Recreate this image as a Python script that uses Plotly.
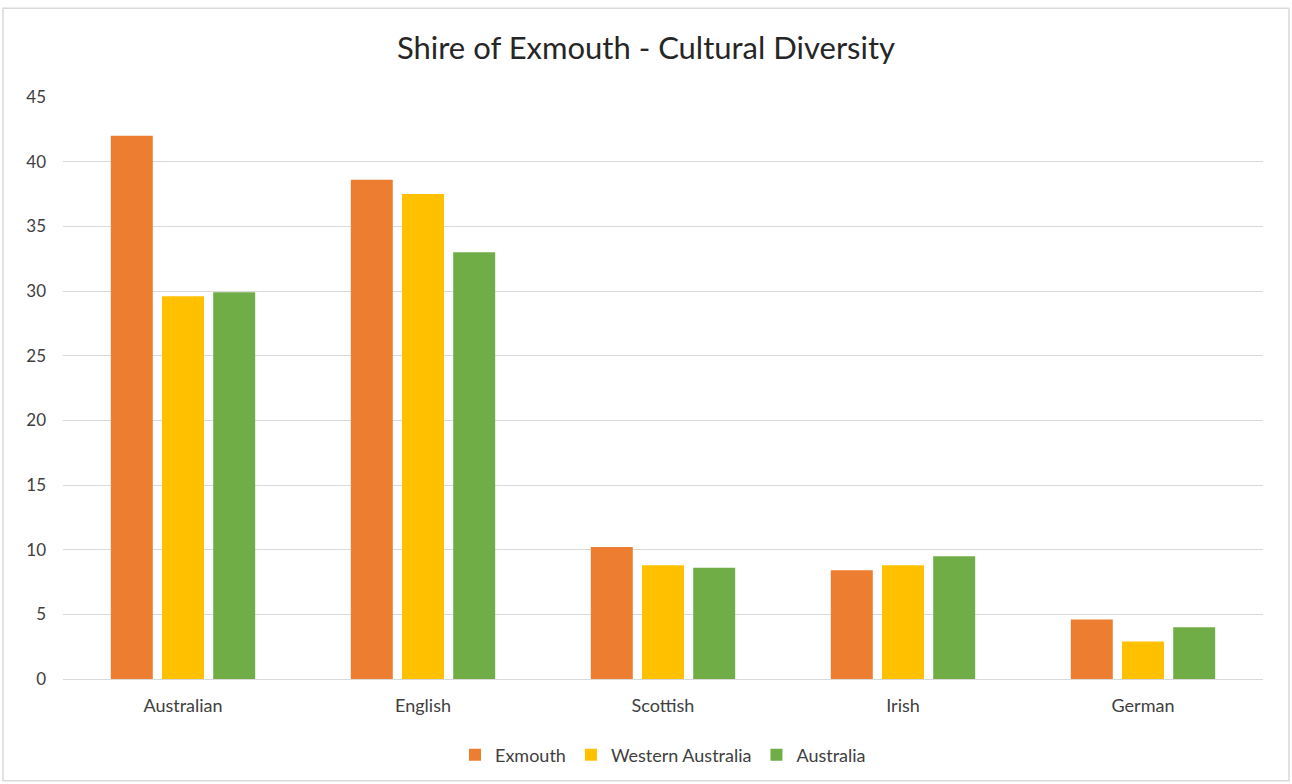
import plotly.graph_objects as go

categories = ["Australian", "English", "Scottish", "Irish", "German"]
exmouth = [42.0, 38.6, 10.2, 8.4, 4.6]
western_australia = [29.6, 37.5, 8.8, 8.8, 2.9]
australia = [29.9, 33.0, 8.6, 9.5, 4.0]
y_ticks = [0, 5, 10, 15, 20, 25, 30, 35, 40, 45]

series = [
    ("Exmouth", exmouth, "#ED7D31"),
    ("Western Australia", western_australia, "#FFC000"),
    ("Australia", australia, "#70AD47"),
]

FONT = "Lato, Open Sans, sans-serif"

fig = go.Figure()
for name, vals, color in series:
    fig.add_trace(go.Bar(x=categories, y=vals, name=name, marker_color=color,
                         marker_line_width=0))

W, H = 1292, 784
ml, mr, mt, mb = 63, 29, 97, 104
pw, ph = W - ml - mr, H - mt - mb

fig.update_layout(
    width=W, height=H,
    margin=dict(l=ml, r=mr, t=mt, b=mb),
    paper_bgcolor="white", plot_bgcolor="white",
    barmode="group", bargap=0.36, bargroupgap=0.18,
    title=dict(text="Shire of Exmouth - Cultural Diversity", x=0.5, xanchor="center",
               y=1 - 48 / H, yanchor="middle",
               font=dict(family=FONT, size=31, color="#262626")),
    font=dict(family=FONT, size=17, color="#404040"),
    legend=dict(orientation="h", x=0.5, xanchor="center", y=-(755 - (H - mb)) / ph,
                yanchor="middle", font=dict(size=18, color="#404040"),
                itemwidth=30, tracegroupgap=0),
    xaxis=dict(showgrid=False, showline=True, linecolor="#D9D9D9", linewidth=1,
               ticks="", tickfont=dict(size=18, color="#404040"),
               ticklabelstandoff=10),
    yaxis=dict(range=[0, 45], tickvals=y_ticks, showgrid=True, gridcolor="#D9D9D9",
               gridwidth=1, zeroline=False, showline=False, ticks="",
               tickfont=dict(size=17, color="#404040"), ticklabelstandoff=16),
    shapes=[dict(type="rect", xref="paper", yref="paper",
                 x0=-(ml - 3) / pw, x1=1 + (mr - 3) / pw,
                 y0=-(mb - 2) / ph, y1=1 + (mt - 8) / ph,
                 line=dict(color="#D9D9D9", width=1.5), fillcolor="rgba(0,0,0,0)",
                 layer="below")],
)

fig.write_html("out.html")
